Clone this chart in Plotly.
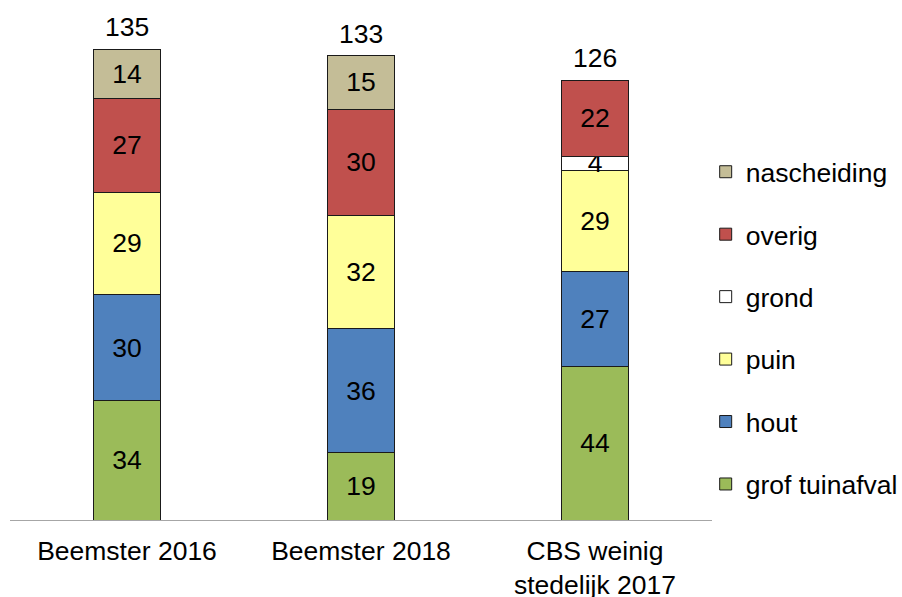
import plotly.graph_objects as go

categories = ["Beemster 2016", "Beemster 2018", "CBS weinig<br>stedelijk 2017"]

series_names = ["grof tuinafval", "hout", "puin", "grond", "overig", "nascheiding"]
grof_tuinafval = [34.2, 19.3, 44.0]
hout = [30.4, 35.6, 27.3]
puin = [29.4, 32.4, 28.9]
grond = [None, None, 4.1]
overig = [26.7, 30.4, 21.6]
nascheiding = [14.2, 15.4, None]
totals = [135, 133, 126]

colors = ["#9BBB59", "#4F81BD", "#FFFF99", "#FFFFFF", "#C0504D", "#C4BD97"]
series_values = [grof_tuinafval, hout, puin, grond, overig, nascheiding]

FONT = "Arial, Liberation Sans, sans-serif"
FS = 26.5

fig = go.Figure()
n = len(series_names)
for i, (name, vals, col) in enumerate(zip(series_names, series_values, colors)):
    fig.add_trace(go.Bar(
        x=categories, y=vals, name=name, legendgroup=name, legendrank=n - i,
        marker=dict(color=col, line=dict(color="#1a1a1a", width=1)),
        texttemplate="%{y:.0f}", textposition="inside", insidetextanchor="middle",
        textangle=0,
        textfont=dict(family=FONT, size=FS, color="black"),
        constraintext="none", cliponaxis=False,
        hoverinfo="skip",
    ))

for c, t in zip(categories, totals):
    fig.add_annotation(x=c, y=t, text=str(t), showarrow=False, yanchor="bottom",
                       yshift=5, font=dict(family=FONT, size=FS, color="black"))

fig.update_layout(
    barmode="stack",
    bargap=0.713,
    width=902, height=597,
    margin=dict(l=10, r=190, t=20, b=77, autoexpand=False),
    plot_bgcolor="white", paper_bgcolor="white",
    font=dict(family=FONT, size=FS, color="black"),
    uniformtext=dict(minsize=FS, mode="show"),
    showlegend=True,
    legend=dict(
        traceorder="grouped", tracegroupgap=25,
        x=0.991, xanchor="left", y=0.744, yanchor="top",
        font=dict(family=FONT, size=FS, color="black"),
        bgcolor="rgba(0,0,0,0)", borderwidth=0,
    ),
    xaxis=dict(showline=True, linecolor="#A6A6A6", linewidth=1, ticks="",
               automargin=False, ticklabelstandoff=7,
               showgrid=False, zeroline=False, tickfont=dict(family=FONT, size=FS)),
    yaxis=dict(visible=False, range=[0, 143.3], showgrid=False, zeroline=False,
               automargin=False),
)

fig.write_html("out.html",
               config={"displayModeBar": False},
               post_script="document.body.style.margin='0';document.body.style.padding='0';")
